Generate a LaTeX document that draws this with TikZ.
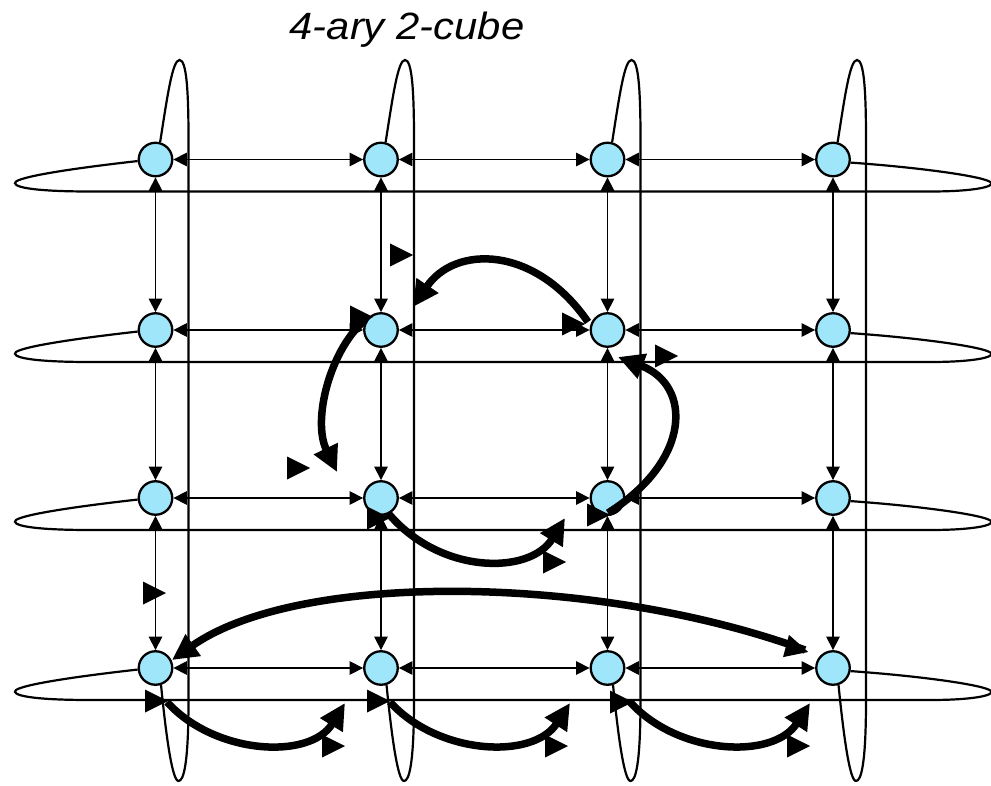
\documentclass[tikz,border=0pt]{standalone}
\usepackage{fontspec}
\setmainfont{Liberation Sans}
\usetikzlibrary{arrows.meta}
\definecolor{nodefill}{RGB}{160,230,250}
\tikzset{
  vtx/.style={circle,draw=black,fill=nodefill,line width=2.3pt,minimum size=33.5pt,inner sep=0pt},
  thinarrow/.style={line width=1.3pt,{Triangle[length=13.5pt,width=13.5pt]}-{Triangle[length=13.5pt,width=13.5pt]}},
  wrap/.style={line width=2.2pt},
  heavy/.style={line width=7.5pt,-{Triangle[length=26pt,width=25pt]}},
  tri/.pic={\fill[black] (0,-11.5) -- (23,0) -- (0,11.5) -- cycle;}
}
\begin{document}
\begin{tikzpicture}[x=1pt,y=-1pt]
\useasboundingbox (0,0) rectangle (991,786);
% title
\node[anchor=base,inner sep=0pt,xscale=1.1] (title) at (407,40) {\fontsize{38}{42}\selectfont\itshape 4-ary 2-cube};
% nodes
\foreach \r/\y in {1/159.5,2/330,3/498,4/668}{
  \foreach \c/\x in {1/155.5,2/381,3/607.5,4/833}{
    \node[vtx] (n\r\c) at (\x,\y) {};
  }
}
% column wrap loops
\foreach \c/\x in {1/155.5,2/381,3/607.5,4/833}{
  \draw[wrap] (n1\c.75) .. controls ({\x+12},95) and ({\x+17},60) .. ({\x+24},60)
    .. controls ({\x+31},60) and ({\x+33},90) .. ({\x+33},140) -- ({\x+33},700)
    .. controls ({\x+33},765) and ({\x+28},781) .. ({\x+23},781)
    .. controls ({\x+17},781) and ({\x+11},740) .. (n4\c.-72);
}
% row wrap loops
\foreach \r/\y in {1/159.5,2/330,3/498,4/668}{
  \draw[wrap] (n\r1.185) .. controls (80,{\y+8}) and (25,{\y+16}) .. (16,{\y+22})
    .. controls (10,{\y+27}) and (30,{\y+32}) .. (90,{\y+32}) -- (930,{\y+32})
    .. controls (975,{\y+32}) and (995,{\y+27}) .. (991,{\y+23})
    .. controls (985,{\y+17}) and (920,{\y+8}) .. (n\r4.-10);
}
% thin mesh links
\foreach \r in {1,2,3,4}{
  \draw[thinarrow] (n\r1) -- (n\r2);
  \draw[thinarrow] (n\r2) -- (n\r3);
  \draw[thinarrow] (n\r3) -- (n\r4);
}
\foreach \c in {1,2,3,4}{
  \draw[thinarrow] (n1\c) -- (n2\c);
  \draw[thinarrow] (n2\c) -- (n3\c);
  \draw[thinarrow] (n3\c) -- (n4\c);
}
% heavy curved arrows
\coordinate (a1) at (588,322); \coordinate (b1) at (413,307);
\coordinate (a2) at (365,320); \coordinate (b2) at (337,472);
\coordinate (a3) at (608,513); \coordinate (b3) at (618,357);
\coordinate (a4) at (388,513); \coordinate (b4) at (565,518);
\coordinate (a5) at (805,650); \coordinate (b5) at (172,660);
\coordinate (a6) at (167,702); \coordinate (b6) at (345,703);
\coordinate (a7) at (390,702); \coordinate (b7) at (570,703);
\coordinate (a8) at (630,702); \coordinate (b8) at (810,703);
\draw[heavy] (a1) .. controls (535,245) and (455,245) .. (b1);
\draw[heavy] (a2) .. controls (330,350) and (312,420) .. (b2);
\draw[heavy] (a3) .. controls (692,460) and (692,385) .. (b3);
\draw[heavy] (a4) .. controls (440,575) and (530,575) .. (b4);
\draw[heavy] (a5) .. controls (600,575) and (300,570) .. (b5);
\draw[heavy] (a6) .. controls (215,755) and (310,760) .. (b6);
\draw[heavy] (a7) .. controls (438,755) and (533,760) .. (b7);
\draw[heavy] (a8) .. controls (678,755) and (773,760) .. (b8);
% detached arrowheads
\foreach \px/\py in {390/255,287/468,143/593,655/356,543/562,322/746,545/746,787/746,
                     562/324,350/317,587/515,367/518,145/701,367/701,610/702}{
  \pic at (\px,\py) {tri};
}
\pic[rotate=-15] at (786,646) {tri};
\end{tikzpicture}
\end{document}
